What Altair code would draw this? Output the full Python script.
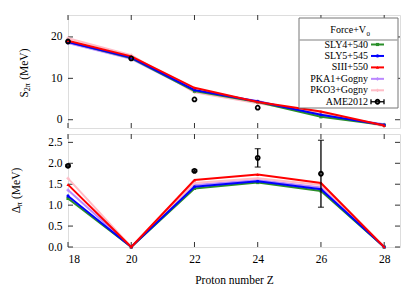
import altair as alt
import pandas as pd

# ---------------- data ----------------
Z = [18, 20, 22, 24, 26, 28]
models = ["SLY4+540", "SLY5+545", "SIII+550", "PKA1+Gogny", "PKO3+Gogny"]
colors = ["#2a8f2a", "#0000ff", "#ff0000", "#bb88ff", "#ffbcc6"]
shapes = ["square", "circle", "triangle-up", "cross", "cross"]

s2p_sly4 = [18.8, 14.9, 6.9, 4.3, 0.7, -1.3]
s2p_sly5 = [18.8, 15.0, 7.2, 4.4, 1.2, -1.3]
s2p_siii = [19.1, 15.3, 7.7, 4.3, 2.0, -1.4]
s2p_pka1 = [18.5, 14.7, 6.9, 4.5, 1.0, -1.1]
s2p_pko3 = [19.7, 15.6, 6.6, 4.0, 1.6, -1.6]

del_sly4 = [1.16, 0.0, 1.40, 1.54, 1.34, 0.0]
del_sly5 = [1.22, 0.0, 1.44, 1.57, 1.38, 0.0]
del_siii = [1.49, 0.0, 1.60, 1.73, 1.53, 0.0]
del_pka1 = [1.36, 0.0, 1.48, 1.60, 1.42, 0.0]
del_pko3 = [1.64, 0.0, 1.53, 1.64, 1.48, 0.0]

ame_top_z = [18, 20, 22, 24]
ame_top_v = [18.9, 14.8, 4.9, 2.9]

ame_bot_z = [18, 22, 24, 26]
ame_bot_v = [1.94, 1.82, 2.13, 1.75]
ame_bot_err = [0.02, 0.02, 0.22, 0.80]

x_ticks = [18, 20, 22, 24, 26, 28]
top_ticks = [0, 10, 20]
bot_ticks = [0, 0.5, 1, 1.5, 2, 2.5]

# ---------------- style ----------------
W, H = 332, 113
FONT = "Liberation Serif, Times New Roman, serif"
FS = 11.5
draw_order = [3, 4, 0, 1, 2]
TICK = 5

xscale = alt.Scale(domain=[18, 28.5], nice=False, zero=False)
cscale = alt.Scale(domain=models, range=colors)


def panel(series, ame_z, ame_v, ame_e, ydom, yticks, xaxis, title_parts, legend):
    yscale = alt.Scale(domain=ydom, nice=False, zero=False)
    yaxis = alt.Axis(values=yticks, ticks=False, domain=False, grid=False,
                     labelPadding=6, labelFontSize=FS, labelFont=FONT,
                     labelColor="black", title=None)
    xenc = alt.X("Z:Q", scale=xscale, axis=xaxis)
    layers = []

    # inward ticks (mirror on all four sides)
    xt = pd.DataFrame({"Z": x_ticks})
    yt = pd.DataFrame({"v": yticks})
    tick_style = dict(color="#333", strokeWidth=1)
    layers.append(alt.Chart(xt).mark_rule(**tick_style).encode(
        x=xenc, y=alt.value(H), y2=alt.value(H - TICK)))
    layers.append(alt.Chart(xt).mark_rule(**tick_style).encode(
        x=xenc, y=alt.value(0), y2=alt.value(TICK)))
    layers.append(alt.Chart(yt).mark_rule(**tick_style).encode(
        y=alt.Y("v:Q", scale=yscale, axis=yaxis), x=alt.value(0), x2=alt.value(TICK)))
    layers.append(alt.Chart(yt).mark_rule(**tick_style).encode(
        y=alt.Y("v:Q", scale=yscale, axis=yaxis), x=alt.value(W), x2=alt.value(W - TICK)))

    # model lines
    for i in draw_order:
        d = pd.DataFrame({"Z": Z, "v": series[i], "model": models[i]})
        base = alt.Chart(d).encode(
            x=xenc,
            y=alt.Y("v:Q", scale=yscale, axis=yaxis),
            color=alt.Color("model:N", scale=cscale, legend=None),
        )
        layers.append(base.mark_line(strokeWidth=2))
        layers.append(base.mark_point(filled=True, size=10, shape=shapes[i], opacity=1))

    # AME2012
    ad = pd.DataFrame({"Z": ame_z, "v": ame_v})
    if ame_e is not None:
        ad["lo"] = [v - e for v, e in zip(ame_v, ame_e)]
        ad["hi"] = [v + e for v, e in zip(ame_v, ame_e)]
        eb = alt.Chart(ad).encode(x=xenc)
        layers.append(eb.mark_rule(color="black", strokeWidth=1.3).encode(
            y=alt.Y("lo:Q", scale=yscale, axis=yaxis), y2="hi:Q"))
        layers.append(eb.mark_tick(orient="horizontal", size=6, thickness=1.3, color="black").encode(
            y=alt.Y("lo:Q", scale=yscale, axis=yaxis)))
        layers.append(eb.mark_tick(orient="horizontal", size=6, thickness=1.3, color="black").encode(
            y=alt.Y("hi:Q", scale=yscale, axis=yaxis)))
    layers.append(alt.Chart(ad).mark_point(shape="circle", filled=False, color="black",
                                           strokeWidth=1.8, size=16, opacity=1).encode(
        x=xenc, y=alt.Y("v:Q", scale=yscale, axis=yaxis)))

    # y axis title (with subscript)
    (main, mx, my), (sub, sx, sy), (rest, rx, ry) = title_parts
    layers.append(alt.Chart().mark_text(text=main, angle=270, align="left", baseline="middle",
                                        font=FONT, fontSize=FS, color="black").encode(
        x=alt.value(mx), y=alt.value(my)))
    layers.append(alt.Chart().mark_text(text=sub, angle=270, align="left", baseline="middle",
                                        font=FONT, fontSize=8, color="black").encode(
        x=alt.value(sx), y=alt.value(sy)))
    layers.append(alt.Chart().mark_text(text=rest, angle=270, align="left", baseline="middle",
                                        font=FONT, fontSize=FS, color="black").encode(
        x=alt.value(rx), y=alt.value(ry)))

    if legend:
        lx0, lx1, ly0, ly1 = 231, 330, 3, 93
        layers.append(alt.Chart().mark_rect(fill="white", stroke="#777", strokeWidth=1).encode(
            x=alt.value(lx0), x2=alt.value(lx1), y=alt.value(ly0), y2=alt.value(ly1)))
        layers.append(alt.Chart().mark_rule(color="#aaa", strokeWidth=1.5).encode(
            x=alt.value(lx0), x2=alt.value(lx1), y=alt.value(25)))
        layers.append(alt.Chart().mark_text(text="Force+V", align="right", baseline="middle",
                                            font=FONT, fontSize=10, color="black").encode(
            x=alt.value(298), y=alt.value(15)))
        layers.append(alt.Chart().mark_text(text="0", align="left", baseline="middle",
                                            font=FONT, fontSize=7, color="black").encode(
            x=alt.value(298.5), y=alt.value(18.5)))
        names = models + ["AME2012"]
        for k, name in enumerate(names):
            yy = 29.5 + 11.45 * k
            layers.append(alt.Chart().mark_text(text=name, align="right", baseline="middle",
                                                font=FONT, fontSize=10, color="black").encode(
                x=alt.value(300), y=alt.value(yy)))
            if k < len(models):
                layers.append(alt.Chart().mark_rule(color=colors[k], strokeWidth=2).encode(
                    x=alt.value(303), x2=alt.value(316), y=alt.value(yy)))
                layers.append(alt.Chart().mark_point(filled=True, size=10, shape=shapes[k],
                                                     color=colors[k], opacity=1).encode(
                    x=alt.value(309.5), y=alt.value(yy)))
            else:
                layers.append(alt.Chart().mark_rule(color="black", strokeWidth=1.3).encode(
                    x=alt.value(303), x2=alt.value(316), y=alt.value(yy)))
                layers.append(alt.Chart().mark_rule(color="black", strokeWidth=1.3).encode(
                    x=alt.value(303), y=alt.value(yy - 2.5), y2=alt.value(yy + 2.5)))
                layers.append(alt.Chart().mark_rule(color="black", strokeWidth=1.3).encode(
                    x=alt.value(316), y=alt.value(yy - 2.5), y2=alt.value(yy + 2.5)))
                layers.append(alt.Chart().mark_point(shape="circle", filled=False, color="black",
                                                     strokeWidth=1.8, size=16, opacity=1).encode(
                    x=alt.value(309.5), y=alt.value(yy)))

    return alt.layer(*layers).properties(width=W, height=H)


top = panel(
    [s2p_sly4, s2p_sly5, s2p_siii, s2p_pka1, s2p_pko3],
    ame_top_z, ame_top_v, None,
    [-2.0, 25.3], top_ticks, None,
    (("S", -43, 82.5), ("2π", -40.5, 76.2), ("(MeV)", -43, 64.8)),
    True,
)

xaxis_bottom = alt.Axis(values=x_ticks, ticks=False, domain=False, grid=False,
                        labelPadding=6, labelFontSize=FS, labelFont=FONT, labelColor="black",
                        title="Proton number Z", titleFont=FONT, titleFontSize=FS,
                        titleFontWeight="normal", titleColor="black", titlePadding=10)

bottom = panel(
    [del_sly4, del_sly5, del_siii, del_pka1, del_pko3],
    ame_bot_z, ame_bot_v, ame_bot_err,
    [0.0, 2.7], bot_ticks, xaxis_bottom,
    (("Δ", -51, 79.3), ("π", -48.5, 72.3), ("(MeV)", -51, 65.0)),
    False,
)

chart = alt.vconcat(top, bottom, spacing=2).properties(
    padding={"left": 2, "top": 6, "right": 5, "bottom": 5}
).configure_view(stroke="#333", strokeWidth=1.3).configure(font=FONT)

chart.save("out.html", embed_options={"renderer": "svg", "actions": False})
